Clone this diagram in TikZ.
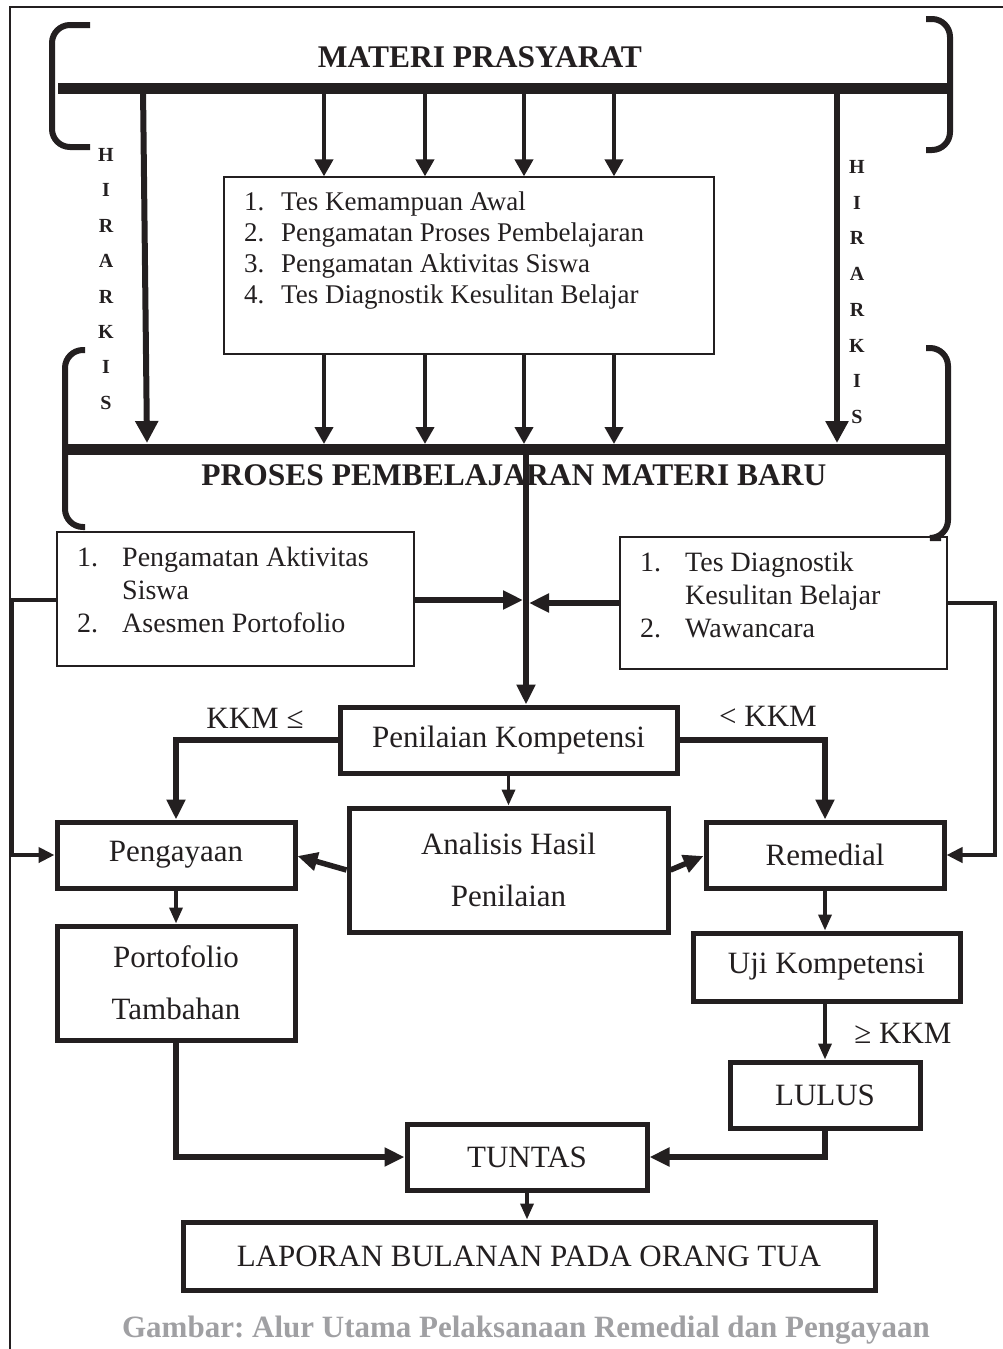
\documentclass[tikz,border=0pt]{standalone}
\usepackage{fontspec}
\setmainfont{Liberation Serif}
\usetikzlibrary{arrows.meta}
\definecolor{ink}{RGB}{35,31,32}
\definecolor{capgray}{RGB}{160,160,163}
\frenchspacing
\begin{document}
\begin{tikzpicture}[x=1pt,y=-1pt,
  thinbox/.style={draw=ink, line width=1.3pt, inner sep=0pt},
  thickbox/.style={draw=ink, line width=5pt, inner sep=0pt, text=ink, font=\fontsize{31}{36}\selectfont, align=center},
  bar/.style={draw=ink, line width=11pt},
  brk/.style={draw=ink, line width=6pt, rounded corners=18pt},
  toparrow/.style={draw=ink, line width=4pt, -{Triangle[length=17pt,width=18pt]}},
  hier/.style={draw=ink, line width=6pt, -{Triangle[length=22pt,width=22pt]}},
  flow/.style={draw=ink, line width=5.5pt, -{Triangle[length=20pt,width=18pt]}},
  smallarrow/.style={draw=ink, line width=3.5pt, -{Triangle[length=16pt,width=13pt]}},
  side/.style={draw=ink, line width=4pt, -{Triangle[length=16pt,width=15pt]}},
  title/.style={text=ink, font=\bfseries\fontsize{31.5}{36}\selectfont},
  hl/.style={text=ink, font=\bfseries\fontsize{20}{22}\selectfont, inner sep=0pt},
  lbl/.style={text=ink, font=\fontsize{31}{36}\selectfont, inner sep=0pt},
  listtxt/.style={text=ink, anchor=base west, inner sep=0pt}
]
\useasboundingbox (0,0) rectangle (1003,1349);
% frame
\draw[ink, line width=2pt] (10,1349) -- (10,7) -- (1003,7);

% ---------- top: MATERI PRASYARAT ----------
\draw[brk] (90,25) -- (52,25) -- (52,147) -- (90,147);
\draw[brk] (926,19) -- (950,19) -- (950,150) -- (926,150);
\draw[bar] (58,88) -- (947,88);
\node[title] (mp) at (480,57) {MATERI PRASYARAT};

% middle box
\node[thinbox, minimum width=490pt, minimum height=177pt] (mid) at (469,265.5) {};
\node[listtxt, font=\fontsize{27}{31}\selectfont] (midtxt) at (244,210)
  {\begin{tabular}[t]{@{}p{37pt}@{}l@{}}1.&Tes Kemampuan Awal\\2.&Pengamatan Proses Pembelajaran\\3.&Pengamatan Aktivitas Siswa\\4.&Tes Diagnostik Kesulitan Belajar\end{tabular}};

\foreach \xx [count=\i] in {324,425,524,614} {
  \coordinate (ta\i) at (\xx,88);
  \coordinate (tb\i) at (\xx,444);
  \draw[toparrow] (ta\i) -- (ta\i |- mid.north);
  \draw[toparrow] (mid.south -| tb\i) -- (tb\i);
}

% HIRARKIS
\foreach \l [count=\i] in {H,I,R,A,R,K,I,S} {
  \node[hl] (hla\i) at (106,{155+35.4*(\i-1)}) {\l};
  \node[hl] (hlb\i) at (857,{167+35.7*(\i-1)}) {\l};
}
\coordinate (hla) at (143,88);
\coordinate (hlaend) at (147,443);
\coordinate (hlb) at (837,88);
\coordinate (hlbend) at (837,443);
\draw[hier] (hla) -- (hlaend);
\draw[hier] (hlb) -- (hlbend);

% ---------- PROSES PEMBELAJARAN ----------
\draw[brk] (85,350) -- (65,350) -- (65,527) -- (85,527);
\draw[brk] (926,348) -- (948,348) -- (948,538) -- (941,538);
\draw[bar] (65,449) -- (948,449);
\node[title] (ppmb) at (514,475) {PROSES PEMBELAJARAN MATERI BARU};

% left and right list boxes
\node[thinbox, minimum width=357pt, minimum height=134pt] (lb) at (235.5,599) {};
\node[listtxt, font=\fontsize{28}{33}\selectfont] (lbtxt) at (77,566)
  {\begin{tabular}[t]{@{}p{45pt}@{}l@{}}1.&Pengamatan Aktivitas\\&Siswa\\2.&Asesmen Portofolio\end{tabular}};
\node[thinbox, minimum width=327pt, minimum height=132pt] (rb) at (783.5,603) {};
\node[listtxt, font=\fontsize{28}{33}\selectfont] (rbtxt) at (640,571)
  {\begin{tabular}[t]{@{}p{45pt}@{}l@{}}1.&Tes Diagnostik\\&Kesulitan Belajar\\2.&Wawancara\end{tabular}};

% ---------- lower flow ----------
\node[thickbox, minimum width=337pt, minimum height=66pt] (pen) at (508.5,740) {Penilaian Kompetensi};
\node[thickbox, minimum width=238pt, minimum height=66pt] (peng) at (176,855) {Pengayaan};
\node[thickbox, minimum width=319pt, minimum height=124pt, font=\fontsize{31}{52}\selectfont] (ana) at (508.5,870) {Analisis Hasil\\Penilaian};
\node[thickbox, minimum width=238pt, minimum height=66pt] (rem) at (825,855) {Remedial};
\node[thickbox, minimum width=238pt, minimum height=114pt, font=\fontsize{31}{52}\selectfont] (port) at (176,983) {Portofolio\\Tambahan};
\node[thickbox, minimum width=267pt, minimum height=68pt] (uji) at (826.5,967) {Uji Kompetensi};
\node[thickbox, minimum width=190pt, minimum height=66pt] (lulus) at (825,1095) {LULUS};
\node[thickbox, minimum width=240pt, minimum height=66pt] (tuntas) at (527,1157) {TUNTAS};
\node[thickbox, minimum width=692pt, minimum height=68pt] (lap) at (529,1256) {LAPORAN BULANAN PADA ORANG TUA};

% central line
\coordinate (cb) at (526,449);
\draw[flow] (cb) -- (cb |- pen.north);
\coordinate (cl) at (523,600);
\coordinate (cr) at (529,603);
\draw[flow] (lb.east |- cl) -- (cl);
\draw[flow] (rb.west |- cr) -- (cr);

% side loops
\draw[side] (lb.west |- 0,600) -- (12,600) -- (12,855) -- (peng.west);
\draw[side] (rb.east |- 0,603) -- (995,603) -- (995,855) -- (rem.east);

% branches
\draw[flow] (pen.west) -- (176,740) -- (peng.north);
\draw[flow] (pen.east) -- (825,740) -- (rem.north);
\node[lbl] (kkm1) at (255,718) {KKM ≤};
\node[lbl] (kkm2) at (768,716) {< KKM};
\draw[smallarrow] (pen.south -| ana.north) -- (ana.north);
\draw[flow] (ana.west |- 0,870) -- (peng.east |- 0,856);
\draw[flow] (ana.east |- 0,870) -- (rem.west |- 0,856);

\draw[smallarrow] (peng.south) -- (port.north);
\draw[smallarrow] (rem.south) -- (rem.south |- uji.north);
\draw[smallarrow] (uji.south -| lulus.north) -- (lulus.north);
\node[lbl] (kkm3) at (903,1033) {≥ KKM};

\draw[flow] (port.south) -- (176,1157) -- (tuntas.west);
\draw[flow] (lulus.south) -- (825,1157) -- (tuntas.east);
\draw[smallarrow] (tuntas.south) -- (tuntas.south |- lap.north);

% caption
\node[text=capgray, font=\bfseries\fontsize{31}{34}\selectfont] (cap) at (526,1330) {Gambar: Alur Utama Pelaksanaan Remedial dan Pengayaan};
\end{tikzpicture}
\end{document}
